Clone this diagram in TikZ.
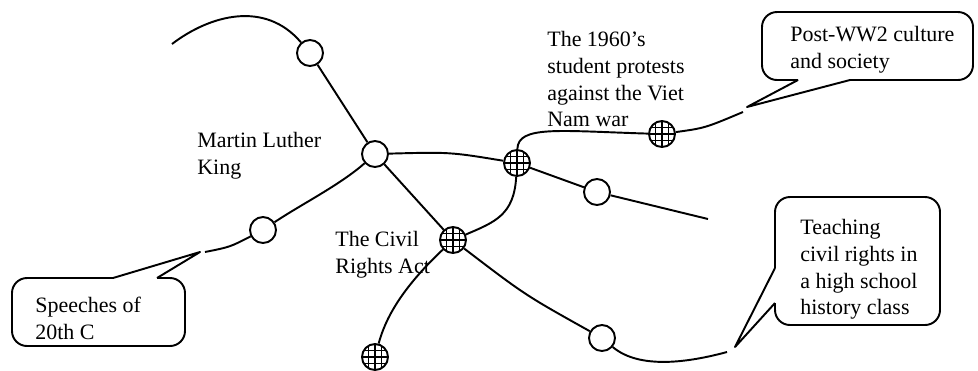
\documentclass[tikz,border=0pt]{standalone}
\usepackage{fontspec}
\setmainfont{Liberation Serif}
\usetikzlibrary{positioning}

\begin{document}
\begin{tikzpicture}[
  x=0.02cm, y=-0.02cm,
  font=\fontsize{12.5pt}{15.2pt}\selectfont,
  link/.style={line width=1.1pt},
  opennode/.style={circle, draw, line width=1.1pt, fill=white,
                   minimum size=5.2mm, inner sep=0pt},
  gridnode/.style={opennode, path picture={
      \foreach \i in {-1,0,1} {
        \draw[line width=0.8pt] ([xshift=\i*1.35mm]path picture bounding box.north)
          -- ([xshift=\i*1.35mm]path picture bounding box.south);
        \draw[line width=0.8pt] ([yshift=\i*1.35mm]path picture bounding box.west)
          -- ([yshift=\i*1.35mm]path picture bounding box.east);
      }}},
  txt/.style={anchor=north west, align=left, inner sep=0pt},
  bubble/.style={draw, line width=1.1pt, rounded corners=3mm},
  tail/.style={draw, line width=1.1pt, line join=round}
]
\useasboundingbox (0,0) rectangle (978,370);

\node[opennode] (mlk) at (375,154) {};
\node[opennode] (mlkup) at (310,53) {};
\node[opennode] (mlkdown) at (263,230) {};
\node[gridnode] (civil) at (453,240) {};
\node[gridnode] (civildown) at (375,357) {};
\node[gridnode] (sixties) at (517,163) {};
\node[gridnode] (postwar) at (662,134) {};
\node[opennode] (sixtiesright) at (597,192) {};
\node[opennode] (civilright) at (602,338) {};

\coordinate (endtl) at (172,44);
\coordinate (endsp) at (205,252);
\coordinate (endpw) at (743,112);
\coordinate (endr) at (708,219);
\coordinate (endtc) at (727,352);

\node[txt] at (197,132) {Martin Luther\\King};
\node[txt] at (335,231) {The Civil\\Rights Act};
\node[txt] at (547,31) {The 1960's\\student protests\\against the Viet\\Nam war};

\draw[link] (endtl) .. controls (210,15) and (265,0) .. (mlkup);
\draw[link] (mlkup) -- (mlk);
\draw[link] (mlk) .. controls (340,185) and (300,205) .. (mlkdown);
\draw[link] (mlkdown) .. controls (230,247) .. (endsp);
\draw[link] (mlk) .. controls (450,152) .. (sixties);
\draw[link] (mlk) -- (civil);
\draw[link] (civil) .. controls (400,290) and (385,320) .. (civildown);
\draw[link] (civil) .. controls (495,222) and (514,215) .. (sixties);
\draw[link] (sixties) .. controls (518,125) and (560,131) .. (postwar);
\draw[link] (postwar) .. controls (705,128) .. (endpw);
\draw[link] (sixties) -- (sixtiesright);
\draw[link] (sixtiesright) -- (endr);
\draw[link] (civil) .. controls (525,295) .. (civilright);
\draw[link] (civilright) .. controls (640,370) and (690,362) .. (endtc);

\coordinate (pwtip) at (747,107);
\draw[bubble] (798,80) -- (762,80) -- (762,12) -- (973,12) -- (973,80) -- (850,80);
\draw[tail] (798,80) -- (pwtip) -- (850,80);
\node[txt] at (790,26) {Post-WW2 culture\\and society};

\coordinate (tctip) at (735,347);
\draw[bubble] (775,268) -- (775,197) -- (940,197) -- (940,325) -- (775,325) -- (775,303);
\draw[tail] (775,268) -- (tctip) -- (775,303);
\node[txt] at (800,219) {Teaching\\civil rights in\\a high school\\history class};

\coordinate (sptip) at (200,252);
\draw[bubble] (113,278) -- (12,278) -- (12,346) -- (185,346) -- (185,278) -- (157,278);
\draw[tail] (113,278) -- (sptip) -- (157,278);
\node[txt] at (35,297) {Speeches of\\20th C};
\end{tikzpicture}
\end{document}
